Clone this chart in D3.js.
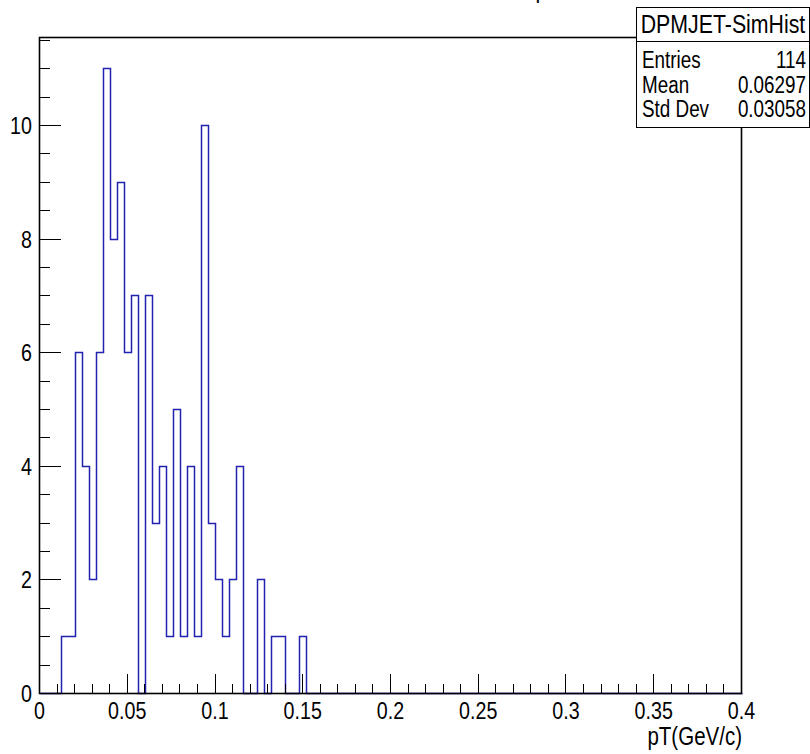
<!DOCTYPE html>
<html>
<head>
<meta charset="utf-8">
<script src="https://cdn.jsdelivr.net/npm/d3@7"></script>
<style>
  html, body { margin: 0; padding: 0; background: #fff; }
  svg { display: block; }
  text { font-family: "Liberation Sans", Arial, Helvetica, sans-serif; fill: #000; }
</style>
</head>
<body>
<svg id="chart" width="810" height="754"></svg>
<script>
// ---- data ----
const binLow = 0.0;
const binHigh = 0.4;
const counts = [
  0, 0, 0, 1, 1, 6, 4, 2, 6, 11,
  8, 9, 6, 7, 0, 7, 3, 4, 1, 5,
  1, 4, 1, 10, 3, 2, 1, 2, 4, 0,
  0, 2, 0, 1, 1, 0, 0, 1, 0, 0,
  0, 0, 0, 0, 0, 0, 0, 0, 0, 0,
  0, 0, 0, 0, 0, 0, 0, 0, 0, 0,
  0, 0, 0, 0, 0, 0, 0, 0, 0, 0,
  0, 0, 0, 0, 0, 0, 0, 0, 0, 0,
  0, 0, 0, 0, 0, 0, 0, 0, 0, 0,
  0, 0, 0, 0, 0, 0, 0, 0, 0, 0
];
const xTickValues = [0, 0.05, 0.1, 0.15, 0.2, 0.25, 0.3, 0.35, 0.4];
const xTickLabels = ["0", "0.05", "0.1", "0.15", "0.2", "0.25", "0.3", "0.35", "0.4"];
const yTickValues = [0, 2, 4, 6, 8, 10];
const yTickLabels = ["0", "2", "4", "6", "8", "10"];
const yMax = 11.55;
const xTitle = "pT(GeV/c)";
const histTitle = "pT";
const statsName = "DPMJET-SimHist";
const statsLabels = ["Entries", "Mean", "Std Dev"];
const statsValues = ["114", "0.06297", "0.03058"];

// ---- layout ----
const svg = d3.select("#chart");
const X0 = 39.5, X1 = 741.5, Y0 = 693.5, Y1 = 37.5;
const x = d3.scaleLinear().domain([binLow, binHigh]).range([X0, X1]);
const y = d3.scaleLinear().domain([0, yMax]).range([Y0, Y1]);
const nb = counts.length;
const bw = (binHigh - binLow) / nb;
const SX = 0.82; // horizontal squeeze to mimic ROOT's narrow Helvetica

function addText(parent, tx, ty, str, size, anchor) {
  const g = parent.append("g").attr("transform", `translate(${tx},${ty}) scale(${SX},1)`);
  g.append("text").attr("x", 0).attr("y", 0).attr("text-anchor", anchor || "start")
    .attr("font-size", size).text(str);
  return g;
}

// title (mostly off-canvas, like the reference)
addText(svg, 548, -2, histTitle, 26, "middle");

// histogram step outline
const pts = [[binLow, 0]];
counts.forEach((c, i) => {
  pts.push([binLow + i * bw, c]);
  pts.push([binLow + (i + 1) * bw, c]);
});
pts.push([binHigh, 0]);
const line = d3.line().x(d => Math.round(x(d[0])) + 0.5).y(d => Math.round(y(d[1]) - 0.5) + 0.5);
svg.append("path").attr("d", line(pts)).attr("fill", "none")
  .attr("stroke", "#2222b0").attr("stroke-width", 1.5);

// frame
svg.append("rect").attr("x", X0).attr("y", Y1).attr("width", X1 - X0).attr("height", Y0 - Y1)
  .attr("fill", "none").attr("stroke", "#000").attr("stroke-width", 1.6);

// x axis ticks (inward)
const xMajLen = 19.7, xMinLen = 9.8;
const xAxis = d3.axisTop(x).tickValues(d3.range(0, 41).map(i => i / 100))
  .tickSizeOuter(0).tickSizeInner(0).tickFormat("");
const gx = svg.append("g").attr("transform", `translate(0,${Y0})`).call(xAxis);
gx.select(".domain").remove();
gx.selectAll(".tick line")
  .attr("y2", d => (Math.round(d * 100) % 5 === 0 ? -xMajLen : -xMinLen))
  .attr("stroke", "#000").attr("shape-rendering", "crispEdges");
gx.selectAll(".tick").attr("transform", d => `translate(${Math.round(x(d) - 0.5) + 0.5},0)`);

// x labels
const gxl = svg.append("g");
xTickValues.forEach((v, i) => addText(gxl, x(v), 719, xTickLabels[i], 24, "middle"));

// x title
addText(svg, 742, 745, xTitle, 25, "end");

// y axis ticks (inward)
const yMajLen = 21.1, yMinLen = 10.5;
const yAxis = d3.axisRight(y).tickValues(d3.range(0, 24).map(i => i / 2))
  .tickSizeOuter(0).tickSizeInner(0).tickFormat("");
const gy = svg.append("g").attr("transform", `translate(${X0},0)`).call(yAxis);
gy.select(".domain").remove();
gy.selectAll(".tick line")
  .attr("x2", d => (d % 2 === 0 ? yMajLen : yMinLen))
  .attr("stroke", "#000").attr("shape-rendering", "crispEdges");
gy.selectAll(".tick").attr("transform", d => `translate(0,${Math.round(y(d) - 0.5) + 0.5})`);

// y labels
const gyl = svg.append("g");
yTickValues.forEach((v, i) => addText(gyl, 32, y(v) + 8.5, yTickLabels[i], 24, "end"));

// stats box
const sb = { x: 636.5, y: 7.5, w: 173, h: 120, sep: 41.5 };
svg.append("rect").attr("x", sb.x).attr("y", sb.y).attr("width", sb.w).attr("height", sb.h)
  .attr("fill", "#fff").attr("stroke", "#000").attr("shape-rendering", "crispEdges");
svg.append("line").attr("x1", sb.x).attr("x2", sb.x + sb.w).attr("y1", sb.sep).attr("y2", sb.sep)
  .attr("stroke", "#000").attr("shape-rendering", "crispEdges");
addText(svg, sb.x + sb.w / 2, 33, statsName, 26, "middle");
const rowY = [68, 93, 117];
statsLabels.forEach((s, i) => {
  addText(svg, 642, rowY[i], s, 23, "start");
  addText(svg, 806, rowY[i], statsValues[i], 23, "end");
});
</script>
</body>
</html>
